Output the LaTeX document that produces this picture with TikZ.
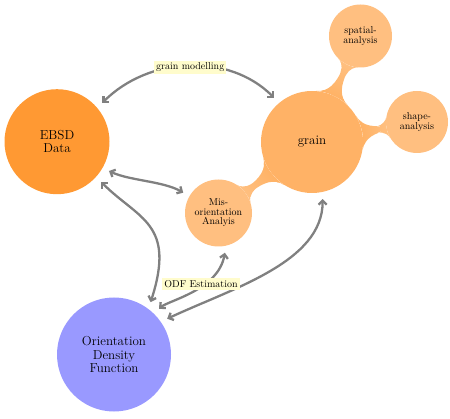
\documentclass[tikz,border=0pt]{standalone}
\usetikzlibrary{mindmap,backgrounds,arrows.meta}
\begin{document}
\begin{tikzpicture}[x=1pt,y=1pt,
  bigc/.style={circle, draw=none, inner sep=0pt, align=center, font=\fontsize{13}{13.5}\selectfont},
  smallc/.style={circle, draw=none, inner sep=0pt, align=center, fill=orange!50, text width=52pt, font=\fontsize{10}{9.6}\selectfont},
  tipb/.tip={Straight Barb[length=4pt,width=8pt]},
  arr/.style={draw=gray, line width=2.3pt, tipb-tipb, shorten <=7pt, shorten >=7pt},
  lab/.style={fill=yellow!20, inner sep=2pt, font=\fontsize{10}{12}\selectfont}]
\useasboundingbox (0,0) rectangle (450,418);
\node[bigc, fill=orange!80, minimum size=105pt, text width=80pt] (ebsd) at (57,276.3) {EBSD\\Data};
\node[bigc, fill=orange!60, minimum size=102pt, text width=80pt] (grain) at (312,276) {grain};
\node[smallc, minimum size=63pt] (spatial) at (360.5,382) {spatial-\\analysis};
\node[smallc, minimum size=62pt] (shape) at (417,296) {shape-\\analysis};
\node[smallc, minimum size=67pt] (mis) at (218.5,205) {Mis-\\orientation\\Analyis};
\node[bigc, fill=blue!40, minimum size=114pt, text width=90pt] (odf) at (114,63.5) {Orientation\\Density\\Function};
\begin{scope}[on background layer]
\path (grain) to[circle connection bar switch color=from (orange!60) to (orange!50)] (spatial);
\path (grain) to[circle connection bar switch color=from (orange!60) to (orange!50)] (shape);
\path (grain) to[circle connection bar switch color=from (orange!60) to (orange!50)] (mis);
\end{scope}
\draw[arr] (ebsd.40) .. controls +(45:72) and +(135:72) .. (grain.130) node[lab, pos=0.5, xshift=2pt] {grain modelling};
\draw[arr] (ebsd.-30) .. controls +(-25:30) and +(150:30) .. (mis.150);
\draw[arr] (ebsd.-42) .. controls +(-45:60) and +(72:90) .. (odf.53);
\draw[arr] (odf.35.6) .. controls +(25:80) and +(-90:70) .. (grain.-78);
\draw[arr] (odf.46) .. controls +(41:20) and +(-100:45) .. (mis.-77);
\node[lab] (odfest) at (201,134) {ODF Estimation};
\end{tikzpicture}
\end{document}
